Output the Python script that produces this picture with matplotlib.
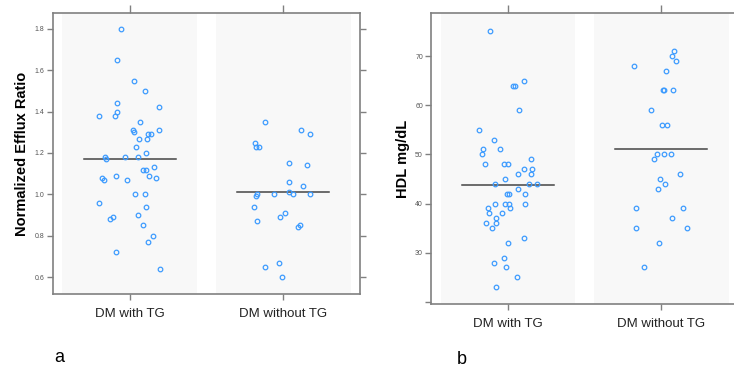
import matplotlib
matplotlib.use("Agg")
import matplotlib.pyplot as plt

plt.rcParams['font.family'] = ['Liberation Sans', 'DejaVu Sans']

# 分组和数据
groups = ["DM with TG", "DM without TG"]

efflux_with = [1.80, 1.65, 1.55, 1.50, 1.44, 1.40, 1.38, 1.38, 1.42, 1.35, 1.31, 1.30, 1.31, 1.27, 1.29,
               1.29, 1.27, 1.23, 1.20, 1.18, 1.17, 1.18, 1.18, 1.12, 1.12, 1.13, 1.08, 1.07, 1.09, 1.07,
               1.09, 1.08, 0.96, 1.00, 1.00, 0.94, 0.88, 0.89, 0.90, 0.85, 0.80, 0.77, 0.72, 0.64]
efflux_with_jit = [-0.06, -0.083, 0.03, 0.098, -0.083, -0.083, -0.20, -0.096, 0.19, 0.07, 0.022, 0.026, 0.188,
                   0.059, 0.116, 0.137, 0.11, 0.039, 0.109, -0.161, -0.152, -0.028, 0.054, 0.085, 0.106, 0.161,
                   -0.183, -0.17, -0.087, -0.02, 0.124, 0.17, -0.20, 0.035, 0.098, 0.103, -0.126, -0.111, 0.054,
                   0.085, 0.152, 0.118, -0.087, 0.196]
efflux_without = [1.35, 1.25, 1.23, 1.23, 1.31, 1.29, 1.15, 1.14, 1.06, 1.04, 1.00, 0.99, 1.00, 1.01, 1.00,
                  1.00, 0.94, 0.87, 0.89, 0.91, 0.84, 0.85, 0.65, 0.67, 0.60]
efflux_without_jit = [-0.118, -0.181, -0.175, -0.155, 0.118, 0.176, 0.039, 0.157, 0.039, 0.126, -0.168, -0.175,
                      -0.063, 0.039, 0.063, 0.172, -0.19, -0.17, -0.02, 0.011, 0.094, 0.109, -0.118, -0.028, -0.005]
efflux_means = [1.17, 1.01]

hdl_with = [75, 64, 64, 65, 59, 55, 53, 51, 50, 51, 49, 48, 48, 48, 46, 47, 47, 46, 45, 44, 44, 44, 43, 42, 42,
            42, 39, 38, 40, 40, 40, 40, 39, 38, 37, 36, 36, 35, 32, 33, 29, 28, 27, 25, 23]
hdl_with_jit = [-0.12, 0.044, 0.035, 0.105, 0.072, -0.19, -0.093, -0.161, -0.17, -0.05, 0.147, -0.152, -0.024,
                0.0, 0.068, 0.105, 0.159, 0.147, -0.02, -0.082, 0.139, 0.187, 0.068, -0.008, 0.005, 0.113,
                -0.133, -0.122, -0.082, -0.02, 0.005, 0.109, 0.011, -0.039, -0.08, -0.141, -0.078, -0.107,
                0.0, 0.104, -0.024, -0.094, -0.015, 0.061, -0.075]
hdl_without = [68, 71, 70, 69, 67, 63, 63, 63, 59, 56, 56, 49, 50, 50, 50, 46, 45, 44, 43, 39, 39, 37, 35, 35, 32, 27]
hdl_without_jit = [-0.178, 0.082, 0.069, 0.093, 0.030, 0.011, 0.020, 0.078, -0.065, 0.002, 0.035, -0.046, -0.026,
                   0.020, 0.061, 0.118, -0.009, 0.022, -0.022, -0.167, 0.141, 0.069, -0.167, 0.164, -0.017, -0.115]
hdl_means = [43.7, 51.0]

efflux_ticks = [0.6, 0.8, 1.0, 1.2, 1.4, 1.6, 1.8]
hdl_ticks = [20, 30, 40, 50, 60, 70]
hdl_ticklabels = ["", "30", "40", "50", "60", "70"]

POINT_COLOR = "#3d9bff"
FRAME_COLOR = "#808080"


def strip_panel(ax, values, jitters, means, ylim, yticks, yticklabels, ylabel, tick_fs, lpad):
    """画一个带抖动的点图面板"""
    ax.set_xlim(0.5, 2.5)
    ax.set_ylim(*ylim)
    for i, (vals, jit) in enumerate(zip(values, jitters)):
        pos = i + 1
        ax.axvspan(pos - 0.44, pos + 0.44, color="#f8f8f8", zorder=0, lw=0)
        ax.plot([pos + j for j in jit], vals, "o", ms=3.3, mfc="none", mec=POINT_COLOR, mew=0.9, zorder=3)
        ax.plot([pos - 0.3, pos + 0.3], [means[i], means[i]], color="#454545", lw=1.1, zorder=2)

    for s in ax.spines.values():
        s.set_color(FRAME_COLOR)
        s.set_linewidth(1.2)

    ax.set_xticks([1, 2])
    ax.set_xticklabels(groups, fontsize=9.5, color="#222222")
    ax.set_yticks(yticks)
    ax.set_yticklabels(yticklabels, fontsize=tick_fs, color="#555555")
    ax.tick_params(axis="x", direction="out", length=4, width=1, color=FRAME_COLOR, pad=6)
    ax.tick_params(axis="y", direction="out", length=4, width=1, color=FRAME_COLOR, pad=2,
                   right=True, labelright=False)
    top = ax.secondary_xaxis("top")
    top.set_xticks([1, 2])
    top.set_xticklabels(["", ""])
    top.tick_params(direction="out", length=6, width=1, color=FRAME_COLOR)
    top.spines["top"].set_visible(False)
    ax.set_ylabel(ylabel, fontsize=10.5, fontweight="bold", labelpad=lpad)


fig = plt.figure(figsize=(7.34, 3.73), dpi=100)

ax_a = fig.add_axes([53 / 734, 1 - 294 / 373, 307 / 734, 281 / 373])
strip_panel(ax_a, [efflux_with, efflux_without], [efflux_with_jit, efflux_without_jit], efflux_means,
            (0.518, 1.877), efflux_ticks, [f"{t:.1f}" for t in efflux_ticks], "Normalized Efflux Ratio", 5, 4)

ax_b = fig.add_axes([431.3 / 734, 1 - 304.3 / 373, 306.8 / 734, 291 / 373])
strip_panel(ax_b, [hdl_with, hdl_without], [hdl_with_jit, hdl_without_jit], hdl_means,
            (19.5, 78.7), hdl_ticks, hdl_ticklabels, "HDL mg/dL", 5, 4)

fig.text(59 / 734, 1 - 358 / 373, "a", fontsize=13, ha="center", va="center")
fig.text(462 / 734, 1 - 360 / 373, "b", fontsize=13, ha="center", va="center")

fig.savefig("out.png", dpi=100)
